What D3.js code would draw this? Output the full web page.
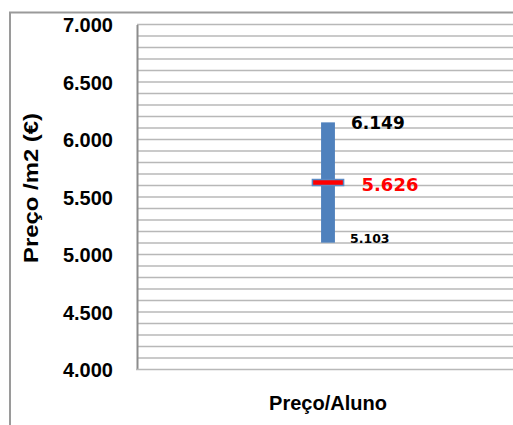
<!DOCTYPE html>
<html>
<head>
<meta charset="utf-8">
<script src="https://cdn.jsdelivr.net/npm/d3@7"></script>
<style>
  html, body { margin: 0; padding: 0; background: #fff; }
  svg { display: block; }
</style>
</head>
<body>
<div id="chart"></div>
<script>
// Price per square metre: range (min–max) and mean for the category
const categories = ["Preço/Aluno"];
const minValues = [5103];
const maxValues = [6149];
const meanValues = [5626];
const yTicks = [4000, 4500, 5000, 5500, 6000, 6500, 7000];
const yTitle = "Preço /m2 (€)";
const xTitle = "Preço/Aluno";

const W = 513, H = 425;
const plot = { left: 137, right: 519, top: 24.5, bottom: 369.5 };
const fmt = d => d3.format(".3f")(d / 1000);
const axisFont = "'Liberation Sans', Arial, sans-serif";
const labelFont = "'DejaVu Sans', sans-serif";

const svg = d3.select("#chart").append("svg")
  .attr("width", W).attr("height", H);

// outer chart frame
svg.append("rect")
  .attr("x", 10).attr("y", 12.5)
  .attr("width", 600).attr("height", 500)
  .attr("fill", "#fff").attr("stroke", "#9a9a9a").attr("stroke-width", 2);

const y = d3.scaleLinear().domain([4000, 7000]).range([plot.bottom, plot.top]);
const x = d3.scaleBand().domain(categories).range([plot.left, plot.right]).padding(0.93);

// minor gridlines every 100
const grid = d3.range(4100, 7001, 100);
svg.append("g").selectAll("line").data(grid).join("line")
  .attr("x1", plot.left).attr("x2", plot.right)
  .attr("y1", d => y(d)).attr("y2", d => y(d))
  .attr("stroke", "#b8b8b8").attr("stroke-width", 1.5);

// y axis with tick labels
const yAxis = d3.axisLeft(y).tickValues(yTicks).tickSize(0).tickPadding(24)
  .tickFormat(fmt);
const gy = svg.append("g").attr("transform", `translate(${plot.left},0)`).call(yAxis)
  .attr("font-family", axisFont).attr("font-size", 20);
gy.select(".domain").attr("stroke", "#8c8c8c").attr("stroke-width", 2);
gy.selectAll("text")
  .attr("font-weight", "bold").attr("fill", "#000")
  .attr("dy", "0.36em");

// bottom axis line
svg.append("line")
  .attr("x1", plot.left - 1).attr("x2", plot.right)
  .attr("y1", plot.bottom).attr("y2", plot.bottom)
  .attr("stroke", "#b8b8b8").attr("stroke-width", 1.5);

// range bars
const bw = x.bandwidth();
svg.append("g").selectAll("rect").data(categories).join("rect")
  .attr("x", d => x(d)).attr("width", bw)
  .attr("y", (d, i) => y(maxValues[i]))
  .attr("height", (d, i) => y(minValues[i]) - y(maxValues[i]))
  .attr("fill", "#4f81bd");

// mean markers
const mw = bw * 2.25;
svg.append("g").selectAll("rect").data(categories).join("rect")
  .attr("x", d => x(d) + bw / 2 - mw / 2).attr("width", mw)
  .attr("y", (d, i) => y(meanValues[i]) - 3).attr("height", 6)
  .attr("fill", "#ff0000").attr("stroke", "#5b8ac4").attr("stroke-width", 1.5);

// value labels
categories.forEach((c, i) => {
  const cx = x(c) + bw / 2;
  svg.append("text")
    .attr("x", cx + 23).attr("y", y(maxValues[i]) + 6.5)
    .attr("font-family", labelFont).attr("font-weight", "bold")
    .attr("font-size", 17).attr("fill", "#000")
    .text(fmt(maxValues[i]));
  svg.append("text")
    .attr("x", cx + 33.5).attr("y", y(meanValues[i]) + 8.5)
    .attr("font-family", labelFont).attr("font-weight", "bold")
    .attr("font-size", 18).attr("fill", "#ff0000")
    .text(fmt(meanValues[i]));
  svg.append("text")
    .attr("x", cx + 22).attr("y", y(minValues[i]))
    .attr("font-family", labelFont).attr("font-weight", "bold")
    .attr("font-size", 12.5).attr("fill", "#000")
    .text(fmt(minValues[i]));
});

// axis titles
svg.append("text")
  .attr("transform", "translate(38,188) rotate(-90)")
  .attr("text-anchor", "middle")
  .attr("font-family", axisFont)
  .attr("font-weight", "bold").attr("font-size", 20).attr("fill", "#000")
  .attr("textLength", 150).attr("lengthAdjust", "spacingAndGlyphs")
  .text(yTitle);

svg.append("text")
  .attr("x", 328).attr("y", 410)
  .attr("text-anchor", "middle")
  .attr("font-family", axisFont)
  .attr("font-weight", "bold").attr("font-size", 20).attr("fill", "#000")
  .text(xTitle);
</script>
</body>
</html>
